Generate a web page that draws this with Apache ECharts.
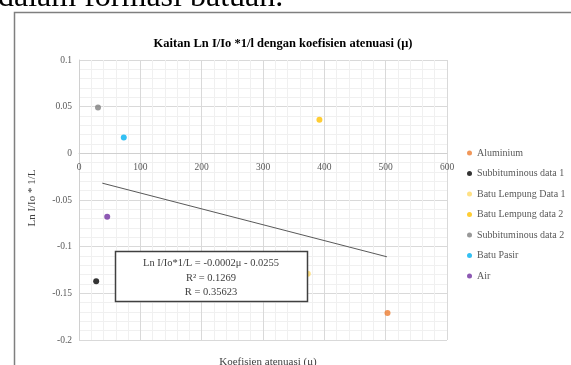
<!DOCTYPE html>
<html>
<head>
<meta charset="utf-8">
<script src="https://cdn.jsdelivr.net/npm/echarts@6/dist/echarts.min.js"></script>
<style>
  html, body { margin: 0; padding: 0; background: #ffffff; }
  #chart { width: 571px; height: 365px; }
</style>
</head>
<body>
<div id="chart"></div>
<script>
// Measured samples: attenuation coefficient (x) vs Ln I/Io * 1/L (y)
const seriesNames = [
  'Aluminium',
  'Subbituminous data 1',
  'Batu Lempung Data 1',
  'Batu Lempung data 2',
  'Subbituminous data 2',
  'Batu Pasir',
  'Air'
];
const muValues = [503, 28, 373, 392, 31, 73, 46];
const lnValues = [-0.171, -0.137, -0.129, 0.036, 0.049, 0.017, -0.068];
const seriesColors = ['#ED7D31', '#000000', '#FFD966', '#FFC000', '#7F7F7F', '#00B0F0', '#7030A0'];

// Linear trendline: Ln I/Io*1/L = slope * mu + intercept
const trendSlope = -0.00017;
const trendIntercept = -0.0255;
const trendRange = [38, 502];
const equationLines = ['Ln I/Io*1/L = -0.0002\u03bc - 0.0255', 'R\u00b2 = 0.1269', 'R = 0.35623'];

const xTicks = { min: 0, max: 600, interval: 100 };
const yTicks = { min: -0.2, max: 0.1, interval: 0.05 };

const SERIF = '"Liberation Serif", "Times New Roman", serif';
const GRID = { left: 79, right: 124, top: 60, bottom: 25 };
const chartHeight = 365;
const plotHeight = chartHeight - GRID.top - GRID.bottom;
// The horizontal axis crosses the vertical axis at y = 0
const xAxisLift = plotHeight * (0 - yTicks.min) / (yTicks.max - yTicks.min);

const chart = echarts.init(document.getElementById('chart'));

const scatterSeries = seriesNames.map((name, i) => ({
  name: name,
  type: 'scatter',
  symbol: 'circle',
  symbolSize: 6,
  itemStyle: { color: seriesColors[i] },
  data: [[muValues[i], lnValues[i]]],
  z: 3
}));

const trendSeries = {
  name: 'trend',
  type: 'line',
  showSymbol: false,
  symbol: 'none',
  silent: true,
  lineStyle: { color: '#595959', width: 1 },
  data: trendRange.map(x => [x, trendSlope * x + trendIntercept]),
  z: 2
};

chart.setOption({
  animation: false,
  backgroundColor: '#ffffff',
  title: {
    text: 'Kaitan Ln I/Io *1/l dengan koefisien atenuasi (\u03bc)',
    left: 278,
    textAlign: 'center',
    top: 32,
    textStyle: { fontFamily: SERIF, fontSize: 12.5, fontWeight: 'bold', color: '#000000' }
  },
  grid: GRID,
  xAxis: {
    type: 'value',
    position: 'bottom',
    offset: -xAxisLift,
    min: xTicks.min, max: xTicks.max, interval: xTicks.interval,
    axisLine: { show: true, onZero: false, lineStyle: { color: '#d0d0d0', width: 1 } },
    axisTick: { show: false },
    axisLabel: { fontFamily: SERIF, fontSize: 9.5, color: '#595959', margin: 9 },
    splitLine: { show: true, lineStyle: { color: '#d9d9d9', width: 1 } },
    minorTick: { show: false, splitNumber: 5 },
    minorSplitLine: { show: true, lineStyle: { color: '#f0f0f0', width: 1 } }
  },
  yAxis: {
    type: 'value',
    min: yTicks.min, max: yTicks.max, interval: yTicks.interval,
    axisLine: { show: true, onZero: false, lineStyle: { color: '#d0d0d0', width: 1 } },
    axisTick: { show: false },
    axisLabel: { fontFamily: SERIF, fontSize: 9.5, color: '#595959', margin: 7 },
    splitLine: { show: true, lineStyle: { color: '#d9d9d9', width: 1 } },
    minorTick: { show: false, splitNumber: 5 },
    minorSplitLine: { show: true, lineStyle: { color: '#f0f0f0', width: 1 } }
  },
  legend: {
    data: seriesNames,
    orient: 'vertical',
    left: 462,
    top: 143,
    itemGap: 10.5,
    itemWidth: 5,
    itemHeight: 5,
    icon: 'circle',
    textStyle: { fontFamily: SERIF, fontSize: 10, color: '#595959', lineHeight: 10 }
  },
  graphic: [
    {
      type: 'text', left: -2, top: -18, silent: true,
      style: { text: 'dalam formasi batuan.', font: '32px "Liberation Serif", serif', fill: '#000000' }
    },
    {
      type: 'rect', silent: true, z: 0,
      shape: { x: 14.5, y: 12.5, width: 620, height: 420 },
      style: { fill: 'none', stroke: '#7f7f7f', lineWidth: 1.5 }
    },
    {
      type: 'text', silent: true, rotation: Math.PI / 2,
      x: 32, y: 198,
      style: {
        text: 'Ln I/Io * 1/L', font: '11px "Liberation Serif", serif', fill: '#404040',
        align: 'center', verticalAlign: 'middle'
      }
    },
    {
      type: 'text', silent: true,
      x: 268, y: 357,
      style: {
        text: 'Koefisien atenuasi (\u03bc)', font: '11px "Liberation Serif", serif', fill: '#404040',
        align: 'center', verticalAlign: 'top'
      }
    },
    {
      type: 'rect', silent: true, z: 10,
      shape: { x: 115.5, y: 251.5, width: 192, height: 50 },
      style: { fill: '#ffffff', stroke: '#404040', lineWidth: 1.5 }
    },
    {
      type: 'text', silent: true, z: 11,
      x: 211, y: 256,
      style: {
        text: equationLines.join('\n'), font: '10.5px "Liberation Serif", serif', fill: '#404040',
        align: 'center', verticalAlign: 'top', lineHeight: 14.5
      }
    }
  ],
  series: [trendSeries].concat(scatterSeries)
});
</script>
</body>
</html>
